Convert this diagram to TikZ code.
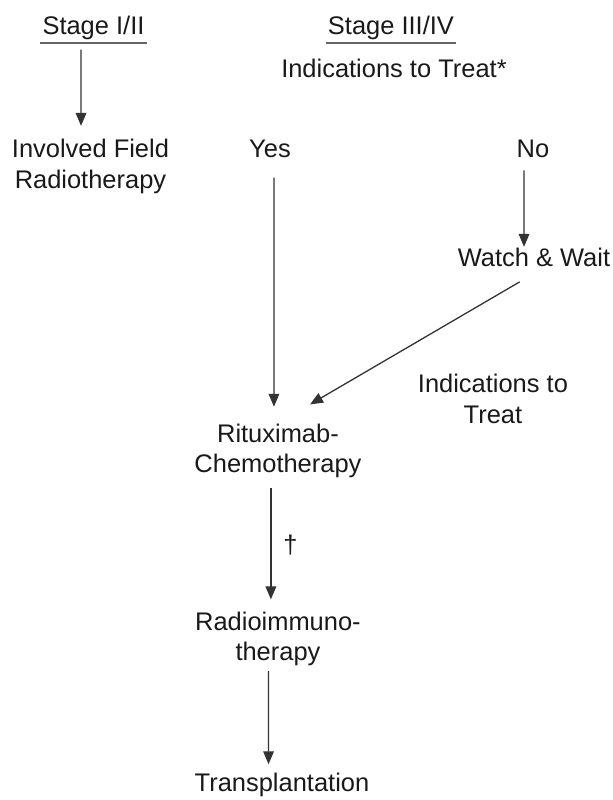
\documentclass[tikz,border=0pt]{standalone}
\usepackage{fontspec}
\setmainfont{Liberation Sans}
\usetikzlibrary{arrows.meta,positioning}

\begin{document}
\begin{tikzpicture}[
    >={Triangle[length=5.5pt,width=4.5pt]},
    lbl/.style={font=\fontsize{10.8}{13}\selectfont,inner sep=2pt,
                text=black!90,anchor=base},
    lbltwo/.style={align=center,font=\fontsize{10.8}{13}\selectfont,
                   inner sep=2pt,text=black!90},
    head/.style={lbl,inner sep=0.8pt},
    arr/.style={->,line width=0.55pt,black!80},
    uline/.style={line width=0.8pt,black!60}
  ]
  \useasboundingbox (0,0) rectangle (9.14,-11.93);
  %% Column headings
  \node[head] (sA)  at (1.394,-0.522) {Stage I/II};
  \node[head] (sB)  at (5.830,-0.522) {Stage III/IV};
  \draw[uline] (sA.south west) -- (sA.south east);
  \draw[uline] (sB.south west) -- (sB.south east);
  \node[lbl] (ind) at (5.875,-1.163) {Indications to Treat*};
  %% Stage I/II branch
  \node[lbltwo] (rt) at (1.349,-2.483) {Involved Field\\Radiotherapy};
  \draw[arr,shorten <=3pt,shorten >=3.5pt]
    ([xshift=-5.3pt]sA.south) -- ([xshift=-4pt]rt.north);
  %% Stage III/IV branches
  \node[lbl] (yes) at (4.026,-2.356) {Yes};
  \node[lbl] (no)  at (7.947,-2.356) {No};
  \node[lbl] (ww)  at (7.962,-3.981) {Watch \& Wait};
  \node[lbltwo] (ind2) at (7.351,-5.949) {Indications to\\Treat};
  \draw[arr,shorten <=3pt,shorten >=-1.5pt]
    ([xshift=-3.8pt]no.south) -- ([xshift=-4.2pt]ww.north);
  %% Treatment sequence
  \node[lbltwo] (rit)   at (4.145,-6.724) {Rituximab-\\Chemotherapy};
  \node[lbltwo] (radio) at (4.145,-9.527) {Radioimmuno-\\therapy};
  \node[lbl]    (trans) at (4.205,-11.809) {Transplantation};
  \draw[arr,shorten <=6pt,shorten >=5pt]
    ([xshift=1.7pt]yes.south) -- ([xshift=-1.7pt]rit.north);
  \draw[arr] ([xshift=-6pt,yshift=-4pt]ww.south)
    -- ([xshift=13.6pt,yshift=6pt]rit.north);
  \draw[arr,shorten <=2pt,shorten >=3pt]
    ([xshift=-3pt]rit.south) --
    node[lbl,anchor=west,right=3pt] {\textdagger} ([xshift=-3pt]radio.north);
  \draw[arr,shorten >=1.7pt]
    ([xshift=-4pt]radio.south) -- ([xshift=-5.7pt]trans.north);
\end{tikzpicture}
\end{document}
